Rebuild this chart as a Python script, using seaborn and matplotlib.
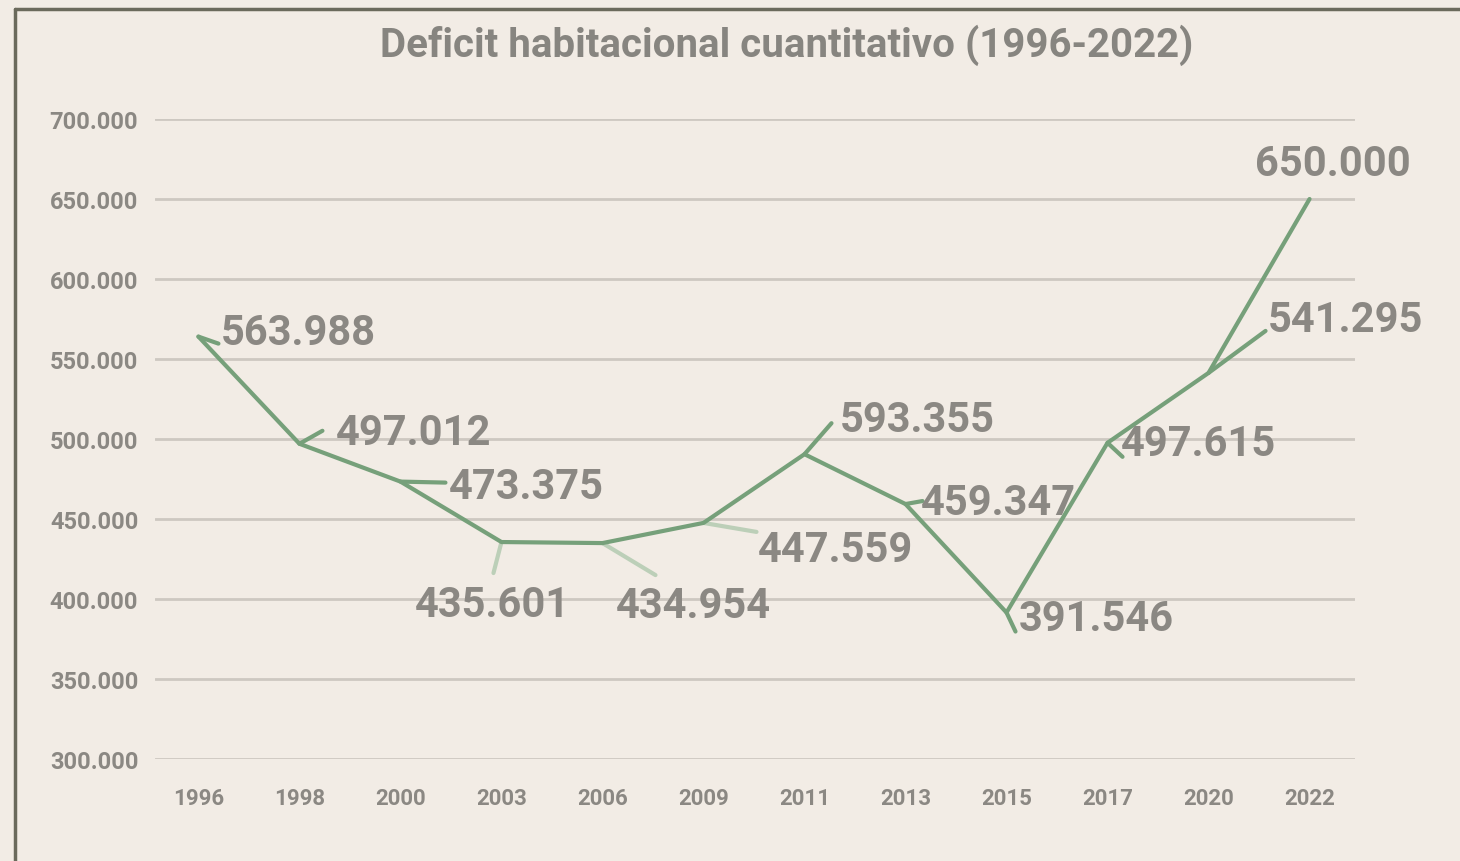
import numpy as np
import pandas as pd
import matplotlib.pyplot as plt
import seaborn as sns
from matplotlib.lines import Line2D
from matplotlib.ticker import FuncFormatter

# datos
anios = ['1996', '1998', '2000', '2003', '2006', '2009', '2011', '2013', '2015', '2017', '2020', '2022']
deficit = [563988, 497012, 473375, 435601, 434954, 447559, 490500, 459347, 391546, 497615, 541295, 650000]
etiquetas = ['563.988', '497.012', '473.375', '435.601', '434.954', '447.559',
             '593.355', '459.347', '391.546', '497.615', '541.295', '650.000']

# layout of labels (pixel offsets from each point, y up)
leader_end = [(20, -7), (23, 13), (45, -1), (-8, -31), (53, -32), (53, -9),
              (27, 31), (17, 3), (9, -19), (15, -14), (57, 42), None]
leader_light = [False, False, False, True, True, True, False, False, False, False, False, False]
text_off = [(22, -7), (36, 0), (48, -16), (-87, -74), (13, -74), (54, -38),
            (35, 23), (15, -10), (12, -17), (13, -12), (59, 42), (-55, 24)]

bg = '#f2ece5'
verde = '#76a07a'
verde_claro = '#bccfb8'
gris = '#8b8883'

sns.set_theme(style='white')
plt.rcParams['font.family'] = ['Roboto', 'DejaVu Sans']

fig = plt.figure(figsize=(14.6, 8.62), dpi=100, facecolor=bg)
ax = fig.add_axes([155 / 1460, 1 - 760 / 862, 1200 / 1460, 640 / 862])
ax.set_facecolor(bg)

df = pd.DataFrame({'anio': anios, 'deficit': deficit})
sns.lineplot(data=df, x='anio', y='deficit', ax=ax, color=verde, lw=3, sort=False, zorder=3)

ax.set_xlim(-0.43, 11.45)
ax.set_ylim(300000, 700000)
ax.set_yticks(np.arange(300000, 700001, 50000))
ax.yaxis.set_major_formatter(FuncFormatter(lambda v, p: f'{v:,.0f}'.replace(',', '.')))
ax.grid(axis='y', color='#cdc8c1', lw=2)
ax.grid(axis='x', visible=False)
for s in ax.spines.values():
    s.set_visible(False)
ax.set_xlabel('')
ax.set_ylabel('')
ax.tick_params(axis='y', length=0, pad=12, labelsize=17, labelcolor=gris)
ax.tick_params(axis='x', length=0, pad=20, labelsize=16, labelcolor=gris)
for t in ax.get_xticklabels() + ax.get_yticklabels():
    t.set_fontweight('bold')

for i, (val, lab) in enumerate(zip(deficit, etiquetas)):
    if leader_end[i] is not None:
        ax.annotate('', xy=(i, val), xytext=leader_end[i], textcoords='offset pixels',
                    arrowprops=dict(arrowstyle='-', color=verde_claro if leader_light[i] else verde,
                                    lw=3, shrinkA=0, shrinkB=0), zorder=2)
    ax.annotate(lab, xy=(i, val), xytext=text_off[i], textcoords='offset pixels',
                ha='left', va='baseline', fontsize=30, fontweight='bold', color=gris, zorder=4)

fig.text(787 / 1460, 1 - 45 / 862, 'Deficit habitacional cuantitativo (1996-2022)',
         ha='center', va='center', fontsize=29, fontweight='bold', color='#878580')

# marco
fig.add_artist(Line2D([15 / 1460, 15 / 1460], [0, 1 - 10 / 862], color='#6b6a5c', lw=2.5))
fig.add_artist(Line2D([15 / 1460, 1], [1 - 10 / 862, 1 - 10 / 862], color='#6b6a5c', lw=2.5))

fig.savefig('out.png', dpi=100, facecolor=bg)
